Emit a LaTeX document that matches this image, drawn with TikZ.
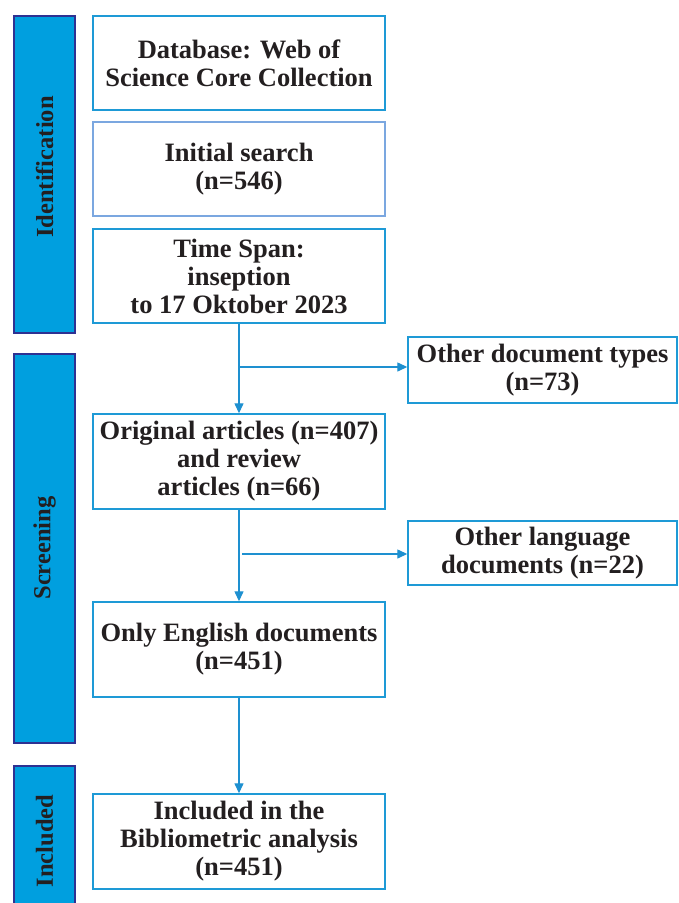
\documentclass[tikz,border=0pt]{standalone}
\usepackage{fontspec}
\setmainfont{Liberation Serif}
\usetikzlibrary{arrows.meta}
\definecolor{txt}{HTML}{231F20}
\definecolor{boxline}{HTML}{1E9AD6}
\definecolor{boxline2}{HTML}{7BA7E0}
\definecolor{barfill}{HTML}{009FDF}
\definecolor{barline}{HTML}{2E3192}
\definecolor{arr}{HTML}{1E90D0}
\tikzset{
  mainbox/.style={draw=boxline, line width=1.4pt, fill=white, minimum width=292pt, inner sep=0pt,
    align=center, text=txt, font=\fontsize{26.5}{28}\selectfont\bfseries},
  sidebox/.style={mainbox, minimum width=269pt},
  bar/.style={draw=barline, line width=1.4pt, fill=barfill, minimum width=61pt, inner sep=0pt},
  barlabel/.style={rotate=90, text=txt, font=\fontsize{24.5}{26}\selectfont\bfseries},
  flow/.style={draw=arr, line width=1.3pt, -{Triangle[length=10pt,width=9pt]}},
  flowline/.style={draw=arr, line width=1.3pt}
}
\begin{document}
\begin{tikzpicture}[x=1pt,y=-1pt]
\useasboundingbox (0,0) rectangle (678,903);
\clip (0,0) rectangle (678,903);
% side bars
\node[bar, minimum height=317pt] (bid) at (44.5,174.5) {};
\node[bar, minimum height=389pt] (bsc) at (44.5,548.5) {};
\node[bar, minimum height=150pt] (bin) at (44.5,841) {};
\node[barlabel] (lid) at (44.5,167) {Identification};
\node[barlabel] (lsc) at (44.5,548) {Screening};
\node[barlabel] (lin) at (44.5,841) {Included};
% main boxes
\node[mainbox, minimum height=94pt] (db) at (239,63) {Database: Web of\\Science Core Collection};
\node[mainbox, draw=boxline2, minimum height=94pt] (init) at (239,169) {Initial search\\(n=546)};
\node[mainbox, minimum height=94pt] (time) at (239,276) {Time Span:\\inseption\\to 17 Oktober 2023};
\node[mainbox, minimum height=95pt] (orig) at (239,461.5) {Original articles (n=407)\\and review\\articles (n=66)};
\node[mainbox, minimum height=95pt] (eng) at (239,649.5) {Only English documents\\(n=451)};
\node[mainbox, minimum height=95pt] (incl) at (239,841.5) {Included in the\\Bibliometric analysis\\(n=451)};
% side boxes
\node[sidebox, minimum height=66pt] (oth) at (542.5,370) {Other document types\\(n=73)};
\node[sidebox, minimum height=64pt] (lang) at (542.5,553) {Other language\\documents (n=22)};
% connectors
\coordinate (j1) at (239,367);
\coordinate (j2) at (242,554);
\draw[flow] (time.south) -- (orig.north);
\draw[flow] (j1) -- (j1 -| oth.west);
\draw[flow] (orig.south) -- (eng.north);
\draw[flow] (j2) -- (j2 -| lang.west);
\draw[flow] (eng.south) -- (incl.north);
\end{tikzpicture}
\end{document}
